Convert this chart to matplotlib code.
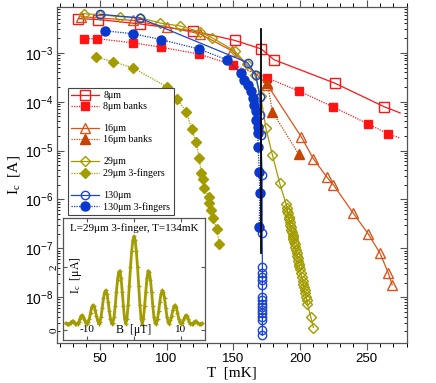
import numpy as np
import matplotlib
matplotlib.use("Agg")
import matplotlib.pyplot as plt
from matplotlib.lines import Line2D
from matplotlib.ticker import FixedLocator, FuncFormatter, LogLocator, NullFormatter

plt.rcParams['mathtext.fontset'] = 'custom'
plt.rcParams['mathtext.rm'] = 'Liberation Serif'
plt.rcParams['mathtext.it'] = 'Liberation Serif:italic'
plt.rcParams['mathtext.sf'] = 'Liberation Sans'

# ---------------- data ----------------
T_8 = [34, 49, 80, 120, 151, 171, 180.6, 226, 263]
I_8 = [5.0e-3, 4.8e-3, 3.9e-3, 2.8e-3, 1.8e-3, 1.2e-3, 7.2e-4, 2.4e-4, 7.9e-5]
T_8_end = 275
I_8_end = 5.9e-5

T_8b = [38, 48, 75, 96, 124, 150, 175, 199, 225, 251, 266]
I_8b = [1.95e-3, 1.95e-3, 1.6e-3, 1.3e-3, 9.5e-4, 5.6e-4, 3.1e-4, 1.66e-4, 7.8e-5, 3.5e-5, 2.2e-5]
T_8b_end = 275
I_8b_end = 1.8e-5

T_16 = [36, 75, 100, 125, 149, 175.6, 201, 210, 220, 225, 240, 251, 260, 266, 269]
I_16 = [5.5e-3, 4.6e-3, 3.4e-3, 2.45e-3, 1.1e-3, 2.2e-4, 1.9e-5, 6.8e-6, 2.9e-6,
        2.0e-6, 5.2e-7, 2.0e-7, 7.9e-8, 3.2e-8, 1.8e-8]

T_16b = [175.6, 179.3, 199]
I_16b = [2.4e-4, 6.2e-5, 8.5e-6]

T_29 = [38, 50, 65, 80, 95, 110, 125, 134, 151, 160, 166, 170.6, 174.4, 179.3, 184.8,
        189.6, 190.2, 190.5, 191.0, 191.4, 191.9, 192.3, 192.8, 193.0, 193.5, 193.9,
        194.4, 194.8, 195.1, 195.6, 196.0, 196.5, 196.9, 197.4, 197.8, 198.3, 198.6,
        199.2, 199.6, 200.1, 200.7, 201.3, 201.9, 202.5, 203.0, 203.4, 203.9, 204.4,
        205.0, 205.5, 208, 210]
logI_29 = [-2.20, -2.22, -2.26, -2.28, -2.39, -2.45, -2.57, -2.69, -2.96, -3.23, -3.45,
           -3.89, -4.54, -5.09, -5.67,
           -6.10, -6.17, -6.23, -6.28, -6.35, -6.40, -6.46, -6.52, -6.56, -6.62, -6.66,
           -6.72, -6.76, -6.80, -6.86, -6.92, -6.98, -7.03, -7.10, -7.15, -7.20, -7.25,
           -7.32, -7.37, -7.42, -7.50, -7.58, -7.66, -7.73, -7.80, -7.86, -7.92, -7.99,
           -8.06, -8.14, -8.40, -8.62]
I_29 = [10.0 ** v for v in logI_29]

T_29f = [47.5, 60, 75, 100.5, 108, 114.7, 118.9, 122, 124.6, 125.9, 127.1, 128.4,
         131.6, 132.1, 133.3, 135.1, 137.6, 139.6]
I_29f = [8.1e-4, 6.6e-4, 4.9e-4, 2.0e-4, 1.12e-4, 6.3e-5, 2.75e-5, 1.5e-5, 6.9e-6,
         3.5e-6, 2.6e-6, 1.7e-6, 1.1e-6, 8.3e-7, 6.0e-7, 4.1e-7, 2.45e-7, 1.23e-7]

T_130 = [50, 80, 160.7, 167, 169.9, 170.2, 170.6, 171.6, 171.6,
         171.8, 171.8, 171.8, 171.8, 171.8, 171.8, 171.8, 171.8, 171.8, 171.8,
         171.8, 171.8, 171.8, 171.8, 171.8]
logI_130 = [-2.21, -2.29, -3.20, -3.45, -3.90, -4.27, -4.68, -5.50, -6.69,
            -7.38, -7.51, -7.58, -7.65, -7.75, -7.99, -8.06, -8.13, -8.20, -8.27,
            -8.33, -8.40, -8.47, -8.68, -8.78]
I_130 = [10.0 ** v for v in logI_130]

T_130f = [54, 75, 96, 124, 145, 155.7, 158.2, 160.7, 163.2, 164.4, 165.7, 167, 167,
          168.2, 168.2, 168.7, 169.4, 169.9, 169.4]
logI_130f = [-2.55, -2.61, -2.73, -2.92, -3.14, -3.42, -3.55, -3.66, -3.79, -3.93,
             -4.07, -4.20, -4.37, -4.51, -4.65, -4.92, -5.43, -5.87, -6.56]
I_130f = [10.0 ** v for v in logI_130f]

T_line = [171, 171]
I_line = [3.1e-3, 7.9e-8]

# inset: Ic (uA) vs B (uT)
B_in = [-14.5, -14.25, -14.0, -13.75, -13.5, -13.25, -13.0, -12.75, -12.5, -12.25,
        -12.0, -11.75, -11.5, -11.25, -11.0, -10.75, -10.5, -10.25, -10.0, -9.75,
        -9.5, -9.25, -9.0, -8.75, -8.5, -8.25, -8.0, -7.75, -7.5, -7.25,
        -7.0, -6.75, -6.5, -6.25, -6.0, -5.75, -5.5, -5.25, -5.0, -4.75,
        -4.5, -4.25, -4.0, -3.75, -3.5, -3.25, -3.0, -2.75, -2.5, -2.25,
        -2.0, -1.75, -1.5, -1.25, -1.0, -0.75, -0.5, -0.25, 0.0,
        0.25, 0.5, 0.75, 1.0, 1.25, 1.5, 1.75, 2.0, 2.25, 2.5,
        2.75, 3.0, 3.25, 3.5, 3.75, 4.0, 4.25, 4.5, 4.75, 5.0,
        5.25, 5.5, 5.75, 6.0, 6.25, 6.5, 6.75, 7.0, 7.25, 7.5,
        7.75, 8.0, 8.25, 8.5, 8.75, 9.0, 9.25, 9.5, 9.75, 10.0,
        10.25, 10.5, 10.75, 11.0, 11.25, 11.5, 11.75, 12.0, 12.25, 12.5,
        12.75, 13.0, 13.25, 13.5, 13.75, 14.0, 14.25, 14.5]
Ic_in = [0.21, 0.20, 0.19, 0.20, 0.23, 0.27, 0.28, 0.25, 0.20, 0.18,
         0.20, 0.26, 0.36, 0.45, 0.47, 0.40, 0.30, 0.22, 0.20, 0.24,
         0.36, 0.55, 0.72, 0.79, 0.76, 0.62, 0.45, 0.30, 0.20, 0.25,
         0.42, 0.70, 1.00, 1.20, 1.26, 1.15, 0.90, 0.60, 0.35, 0.20,
         0.22, 0.40, 0.75, 1.20, 1.60, 1.85, 1.88, 1.65, 1.20, 0.75,
         0.35, 0.20, 0.35, 0.80, 1.40, 2.00, 2.50, 2.85, 2.98,
         2.85, 2.50, 2.00, 1.40, 0.80, 0.35, 0.20, 0.35, 0.75, 1.20,
         1.65, 1.88, 1.85, 1.60, 1.20, 0.75, 0.40, 0.22, 0.20, 0.35,
         0.60, 0.90, 1.15, 1.26, 1.20, 1.00, 0.70, 0.42, 0.25, 0.20,
         0.30, 0.45, 0.62, 0.76, 0.79, 0.72, 0.55, 0.36, 0.24, 0.20,
         0.22, 0.30, 0.40, 0.47, 0.45, 0.36, 0.26, 0.20, 0.18, 0.20,
         0.25, 0.28, 0.27, 0.23, 0.20, 0.19, 0.20, 0.21]

# ---------------- styles ----------------
c8 = '#ff1414'
c16 = '#d9541a'
c16b = '#c84300'
c29 = '#a29c00'
c130 = '#1c46d2'
c130f = '#0838cc'
dot = (0, (1, 1))

fig = plt.figure(figsize=(4.36, 3.83), dpi=100)
ax = fig.add_axes([0.131, 0.104, 0.802, 0.878])

lw = 0.9
mew = 1.0
ax.plot(T_8 + [T_8_end], I_8 + [I_8_end], color=c8, lw=lw, zorder=3)
ax.plot(T_8, I_8, ls='none', marker='s', ms=6.5, mfc='none', mec=c8, mew=mew, zorder=4)
ax.plot(T_8b + [T_8b_end], I_8b + [I_8b_end], color=c8, lw=lw, ls=dot, zorder=3)
ax.plot(T_8b, I_8b, ls='none', marker='s', ms=6, mfc=c8, mec=c8, zorder=4)

ax.plot(T_16, I_16, color=c16, lw=lw, marker='^', ms=7, mfc='none', mec=c16, mew=mew, zorder=4)
ax.plot(T_16b, I_16b, color=c16b, lw=lw, ls=dot, marker='^', ms=7, mfc=c16b, mec=c16b, zorder=4)

ax.plot(T_29, I_29, color=c29, lw=lw, marker='D', ms=5, mfc='none', mec=c29, mew=mew, zorder=4)
ax.plot(T_29f, I_29f, color=c29, lw=lw, ls=dot, marker='D', ms=5.5, mfc=c29, mec=c29, zorder=4)

ax.plot(T_130, I_130, color=c130, lw=lw, marker='o', ms=6, mfc='none', mec=c130, mew=mew, zorder=4)
ax.plot(T_130f, I_130f, color=c130f, lw=lw, ls=dot, marker='o', ms=6.5, mfc=c130f, mec=c130f, zorder=4)

ax.plot(T_line, I_line, color='black', lw=1.3, zorder=5)

ax.set_yscale('log')
ax.set_xlim(18, 280)
ax.set_ylim(1.15e-9, 8.7e-3)

ax.xaxis.set_major_locator(FixedLocator([50, 100, 150, 200, 250]))
ax.xaxis.set_minor_locator(FixedLocator(list(range(20, 281, 10))))
ax.yaxis.set_major_locator(FixedLocator([1e-8, 1e-7, 1e-6, 1e-5, 1e-4, 1e-3]))
ax.yaxis.set_minor_locator(LogLocator(base=10, subs=np.arange(2, 10), numticks=20))
ax.yaxis.set_minor_formatter(NullFormatter())
ax.yaxis.set_major_formatter(FuncFormatter(
    lambda v, p: r'$\mathsf{10^{%d}}$' % int(round(np.log10(v)))))
for lab in ax.get_xticklabels():
    lab.set_family('Liberation Sans')
ax.tick_params(axis='x', which='major', labelsize=9.5, direction='out', length=5,
               top=True, width=0.8, pad=2)
ax.tick_params(axis='x', which='minor', direction='out', length=3, top=True, width=0.7)
ax.tick_params(axis='y', which='major', labelsize=10, direction='in', length=5,
               right=True, width=0.8, pad=3)
ax.tick_params(axis='y', which='minor', direction='in', length=2.5, right=True, width=0.6)
ax.tick_params(axis='both', colors='#555555', labelcolor='black')
for sp in ax.spines.values():
    sp.set_color('#555555')
    sp.set_linewidth(0.9)

ax.set_xlabel('T  [mK]', family='Liberation Serif', fontsize=11, labelpad=1)
ax.set_ylabel(r'I$_\mathrm{c}$  [A]', family='Liberation Serif', fontsize=11)
ax.yaxis.set_label_coords(-0.1, 0.5)

# legend
blank = Line2D([], [], ls='none')
handles = [
    Line2D([], [], color=c8, lw=lw, marker='s', ms=6.5, mfc='none', mec=c8),
    Line2D([], [], color=c8, lw=lw, ls=dot, marker='s', ms=6, mfc=c8, mec=c8),
    blank,
    Line2D([], [], color=c16, lw=lw, marker='^', ms=7, mfc='none', mec=c16),
    Line2D([], [], color=c16b, lw=lw, ls=dot, marker='^', ms=7, mfc=c16b, mec=c16b),
    blank,
    Line2D([], [], color=c29, lw=lw, marker='D', ms=5, mfc='none', mec=c29),
    Line2D([], [], color=c29, lw=lw, ls=dot, marker='D', ms=5.5, mfc=c29, mec=c29),
    blank,
    Line2D([], [], color=c130, lw=lw, marker='o', ms=6, mfc='none', mec=c130),
    Line2D([], [], color=c130f, lw=lw, ls=dot, marker='o', ms=6.5, mfc=c130f, mec=c130f),
]
labels = ['8μm', '8μm banks', ' ', '16μm', '16μm banks', ' ', '29μm', '29μm 3-fingers',
          ' ', '130μm', '130μm 3-fingers']
leg = ax.legend(handles, labels, loc='upper left', bbox_to_anchor=(0.031, 0.759),
                borderaxespad=0, prop={'family': 'Liberation Serif', 'size': 7.2},
                handlelength=2.8, handletextpad=0.4, labelspacing=0.2,
                borderpad=0.35, fancybox=False, framealpha=1, edgecolor='#444444',
                numpoints=1)
leg.get_frame().set_linewidth(0.8)
leg.set_zorder(6)

# inset
axi = fig.add_axes([0.1445, 0.1123, 0.3257, 0.3185])
axi.set_zorder(7)
axi.plot(B_in, Ic_in, color=c29, lw=2.0, marker='+', ms=3.5, mew=0.9)
axi.set_xlim(-15.1, 15.1)
axi.set_ylim(-0.32, 3.56)
axi.set_xticks([-10, 0, 10])
axi.set_xticklabels(['-10', '', '10'])
axi.set_yticks([0, 2])
axi.set_yticklabels(['0', '2'], rotation=90, va='center')
axi.tick_params(axis='x', direction='in', top=True, pad=-11, labelsize=8, length=3,
                colors='#555555', labelcolor='black')
axi.tick_params(axis='y', direction='in', right=True, pad=3, labelsize=8, length=3,
                colors='#555555', labelcolor='black')
for lab in axi.get_xticklabels() + axi.get_yticklabels():
    lab.set_family('Liberation Serif')
for sp in axi.spines.values():
    sp.set_color('#555555')
    sp.set_linewidth(0.9)
axi.text(0.5, 0.955, 'L=29μm 3-finger, T=134mK', transform=axi.transAxes,
         ha='center', va='top', family='Liberation Serif', fontsize=8)
axi.text(0.5, 0.035, 'B  [μT]', transform=axi.transAxes, ha='center', va='bottom',
         family='Liberation Serif', fontsize=8.5)
axi.text(0.035, 0.53, r'I$_\mathrm{c}$  [μA]', transform=axi.transAxes, ha='left',
         va='center', rotation=90, family='Liberation Serif', fontsize=8.5)

fig.savefig('out.png', dpi=100)
